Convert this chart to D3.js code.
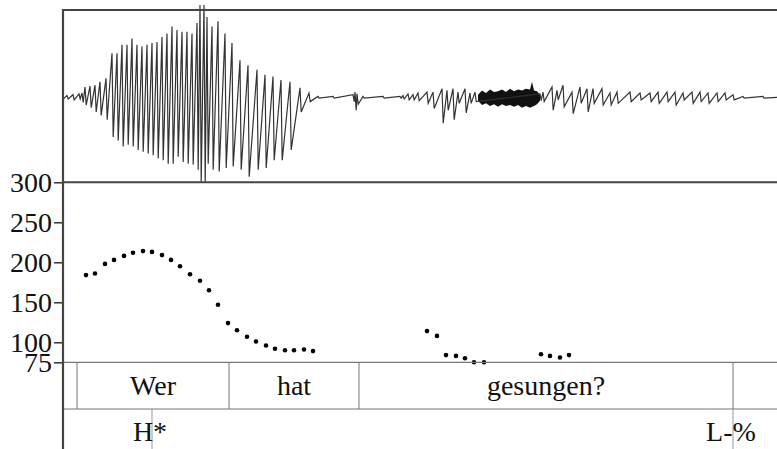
<!DOCTYPE html>
<html>
<head>
<meta charset="utf-8">
<script src="https://cdnjs.cloudflare.com/ajax/libs/d3/7.8.5/d3.min.js"></script>
<style>
    body { margin: 0; background: white; }
    svg { display: block; }
</style>
</head>
<body>
<div id="chart"></div>
<script>
// time in ms from the left edge of the picture
var duration = 714;

// waveform, one entry per pulse: [time, peak, trough] (relative amplitude)
var pulses = [
    [0, 0.01, -0.01], [4, 0.02, -0.02], [10, 0.03, -0.03], [16, 0.04, -0.02], [19, 0.05, -0.06],
    [22, 0.12, -0.09], [27, 0.13, -0.12], [32, 0.14, -0.17], [37, 0.18, -0.21], [43, 0.22, -0.26],
    [49, 0.51, -0.46], [54, 0.51, -0.50], [59, 0.61, -0.57], [64, 0.61, -0.55], [69, 0.68, -0.57],
    [74, 0.61, -0.61], [79, 0.59, -0.63], [84, 0.61, -0.65], [89, 0.63, -0.67], [94, 0.64, -0.71],
    [99, 0.70, -0.73], [104, 0.74, -0.77], [109, 0.82, -0.77], [114, 0.78, -0.69], [119, 0.76, -0.75],
    [124, 0.76, -0.77], [129, 0.74, -0.78], [134, 0.86, -0.84], [137, 1.07, -0.98], [141, 1.07, -0.98],
    [144, 0.93, -0.77], [149, 0.82, -0.84], [155, 0.88, -0.86], [162, 0.74, -0.82], [169, 0.63, -0.80],
    [177, 0.43, -0.84], [185, 0.37, -0.92], [194, 0.32, -0.84], [202, 0.26, -0.82], [210, 0.24, -0.73],
    [218, 0.20, -0.73], [227, 0.18, -0.61], [237, 0.11, -0.17], [246, 0.05, -0.05], [255, 0.01, -0.01],
    [270, 0.01, -0.01], [290, 0.03, -0.05], [292, 0.06, -0.15], [294, 0.04, -0.08], [300, 0.01, -0.01],
    [320, 0.01, -0.01], [337, 0.01, -0.01], [340, 0.02, -0.02], [345, 0.04, -0.03], [350, 0.03, -0.03],
    [355, 0.05, -0.04], [364, 0.06, -0.07], [370, 0.06, -0.13], [379, 0.10, -0.30], [384, 0.08, -0.15],
    [390, 0.10, -0.26], [395, 0.06, -0.07], [402, 0.10, -0.18], [407, 0.05, -0.07], [412, 0.06, -0.05],
    [477, 0.04, -0.04], [480, 0.06, -0.05], [489, 0.12, -0.15], [494, 0.08, -0.03], [500, 0.14, -0.11],
    [509, 0.06, -0.19], [517, 0.12, -0.07], [524, 0.10, -0.17], [530, 0.10, -0.07], [539, 0.10, -0.09],
    [547, 0.05, -0.09], [554, 0.06, -0.07], [567, 0.06, -0.05], [577, 0.05, -0.03], [587, 0.05, -0.05],
    [595, 0.06, -0.07], [604, 0.06, -0.05], [612, 0.06, -0.09], [620, 0.05, -0.03], [629, 0.06, -0.07],
    [637, 0.06, -0.05], [645, 0.05, -0.07], [654, 0.05, -0.05], [662, 0.05, -0.03], [670, 0.03, -0.03],
    [680, 0.01, -0.01], [700, 0.01, -0.01], [714, 0.00, 0.00]
];

// fricative noise in the middle of "gesungen" (envelope)
var noiseT = [415, 419, 423, 427, 431, 435, 439, 443, 447, 451, 455, 459, 463, 467, 469, 471, 474, 477];
var noiseTop = [0.03, 0.08, 0.05, 0.09, 0.06, 0.07, 0.09, 0.06, 0.10, 0.07, 0.09, 0.08, 0.10, 0.09, 0.18, 0.08, 0.07, 0.03];
var noiseBot = [-0.04, -0.09, -0.07, -0.10, -0.08, -0.11, -0.08, -0.10, -0.09, -0.11, -0.09, -0.12, -0.10, -0.12, -0.11, -0.10, -0.08, -0.04];

// f0 track (ms, Hz)
var pitchT = [23, 32, 42, 51, 61, 70, 80, 89, 99, 108, 117, 127, 137, 146, 155, 165, 174, 184, 193,
    203, 212, 222, 231, 241, 250,
    364, 374, 383, 393, 402, 411, 421, 478, 487, 497, 506];
var pitchHz = [184, 186, 198, 203, 208, 212, 214, 213, 209, 203, 195, 185, 177, 165, 147, 124, 115, 107, 101,
    96, 92, 90, 90, 91, 89,
    114, 108, 84, 83, 80, 75, 75, 85, 83, 81, 84];

var f0Ticks = [75, 100, 150, 200, 250, 300];

// word tier
var wordBounds = [14, 166, 296, 670];
var words = ["Wer", "hat", "gesungen?"];

// tone tier
var toneT = [89, 670];
var toneLabels = ["H*", "L-%"];

var width = 777, height = 449;
// the renderer only takes one family name here
var serif = "Liberation Serif";

var svg = d3.select("#chart")
    .append("svg")
    .attr("width", width)
    .attr("height", height);

svg.append("rect")
    .attr("width", width)
    .attr("height", height)
    .attr("fill", "white");

var x = d3.scaleLinear().domain([0, duration]).range([63, 777]);
var ya = d3.scaleLinear().domain([-1, 1]).range([183.6, 11]);
var yf = d3.scaleLinear().domain([75, 300]).range([362.3, 182.3]);

// waveform
var wavePts = [];
pulses.forEach(function(p) {
    wavePts.push([p[0], p[1]]);
    wavePts.push([p[0] + 1.2, p[2]]);
});

var noise = noiseT.map(function(t, i) { return [t, noiseTop[i], noiseBot[i]]; });
svg.append("path")
    .datum(noise)
    .attr("d", d3.area()
        .x(function(d) { return x(d[0]); })
        .y0(function(d) { return ya(d[2]); })
        .y1(function(d) { return ya(d[1]); }))
    .attr("fill", "#111");

svg.append("path")
    .datum(wavePts)
    .attr("d", d3.line()
        .x(function(d) { return x(d[0]); })
        .y(function(d) { return ya(d[1]); }))
    .attr("fill", "none")
    .attr("stroke", "#333")
    .attr("stroke-width", 1.2);

// frame lines
svg.append("line")
    .attr("x1", x(0)).attr("x2", x(duration))
    .attr("y1", 10).attr("y2", 10)
    .attr("stroke", "#444").attr("stroke-width", 2);
svg.append("line")
    .attr("x1", x(0)).attr("x2", x(duration))
    .attr("y1", yf(300)).attr("y2", yf(300))
    .attr("stroke", "#444").attr("stroke-width", 2);

// f0 axis
var axis = svg.append("g")
    .attr("transform", "translate(" + x(0) + ",0)")
    .call(d3.axisLeft(yf).tickValues(f0Ticks).tickSize(9).tickPadding(2));
axis.attr("font-family", null).attr("font-size", null);
axis.select(".domain").remove();
axis.selectAll("line").attr("stroke", "#333").attr("stroke-width", 1.5);
axis.selectAll("text")
    .attr("font-family", serif)
    .attr("font-size", 28)
    .attr("fill", "#111");

// pitch dots
svg.selectAll(".f0")
    .data(pitchT)
    .enter()
    .append("circle")
    .attr("class", "f0")
    .attr("cx", function(d) { return x(d); })
    .attr("cy", function(d, i) { return yf(pitchHz[i]); })
    .attr("r", 2.3)
    .attr("fill", "#000");

// word tier
var tierTop = yf(75), tierBot = 409;
var tier = svg.append("g");

tier.append("line")
    .attr("x1", x(0)).attr("x2", x(duration))
    .attr("y1", tierTop).attr("y2", tierTop)
    .attr("stroke", "#777").attr("stroke-width", 1.2);
tier.append("line")
    .attr("x1", x(0)).attr("x2", x(duration))
    .attr("y1", tierBot).attr("y2", tierBot)
    .attr("stroke", "#777").attr("stroke-width", 1.2);

tier.selectAll(".bound")
    .data(wordBounds)
    .enter()
    .append("line")
    .attr("x1", function(d) { return x(d); })
    .attr("x2", function(d) { return x(d); })
    .attr("y1", tierTop).attr("y2", tierBot)
    .attr("stroke", "#777").attr("stroke-width", 1);

tier.selectAll(".word")
    .data(words)
    .enter()
    .append("text")
    .attr("x", function(d, i) { return (x(wordBounds[i]) + x(wordBounds[i + 1])) / 2; })
    .attr("y", 395)
    .attr("text-anchor", "middle")
    .attr("font-family", serif)
    .attr("font-size", 28)
    .attr("fill", "#111")
    .text(function(d) { return d; });

// tone tier
tier.selectAll(".tone")
    .data(toneT)
    .enter()
    .append("line")
    .attr("x1", function(d) { return x(d); })
    .attr("x2", function(d) { return x(d); })
    .attr("y1", tierBot).attr("y2", height)
    .attr("stroke", "#999").attr("stroke-width", 1);

tier.selectAll(".toneLabel")
    .data(toneLabels)
    .enter()
    .append("text")
    .attr("x", function(d, i) { return x(toneT[i]) - 2; })
    .attr("y", 441)
    .attr("text-anchor", "middle")
    .attr("font-family", serif)
    .attr("font-size", 28)
    .attr("fill", "#111")
    .text(function(d) { return d; });

// left border
svg.append("line")
    .attr("x1", x(0)).attr("x2", x(0))
    .attr("y1", 9).attr("y2", height)
    .attr("stroke", "#444").attr("stroke-width", 2.2);
</script>
</body>
</html>
